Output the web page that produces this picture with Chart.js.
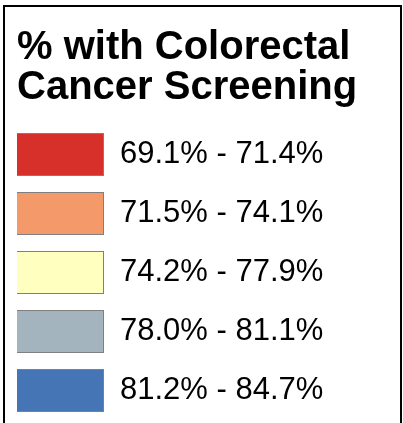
<!DOCTYPE html>
<html>
<head>
<meta charset="utf-8">
<script src="https://cdn.jsdelivr.net/npm/chart.js@4/dist/chart.umd.min.js"></script>
<style>
  html, body { margin: 0; padding: 0; background: #fff; }
  #wrap { position: relative; width: 403px; height: 423px; overflow: hidden; }
  #marco { position: absolute; left: 3px; top: 5px; width: 395px; height: 440px;
           border: 2px solid #000; border-bottom: none; }
  canvas { position: absolute; left: 0; top: 0; }
</style>
</head>
<body>
<div id="wrap">
  <div id="marco"></div>
  <canvas id="leyenda" width="403" height="423"></canvas>
</div>
<script>
// Rangos de la leyenda
const rangos = ['69.1% - 71.4%', '71.5% - 74.1%', '74.2% - 77.9%', '78.0% - 81.1%', '81.2% - 84.7%'];
// Cada caja ocupa lo mismo
const valores = [1, 1, 1, 1, 1];
// Colores de cada rango
const colores = ['#d7302a', '#f4996a', '#ffffc0', '#a4b4be', '#4575b5'];
const titulo = ['% with Colorectal', 'Cancer Screening'];

const ctx = document.getElementById('leyenda').getContext('2d');

new Chart(ctx, {
    type: 'bar',
    data: {
        labels: rangos,
        datasets: [{
            data: valores,
            backgroundColor: colores,
            borderColor: '#7f7f7f',
            borderWidth: 1,
            barPercentage: 0.73,
            categoryPercentage: 1
        }]
    },
    options: {
        indexAxis: 'y',
        responsive: false,
        animation: false,
        layout: { padding: { left: 17, top: 0, bottom: 3, right: 0 } },
        scales: {
            x: { display: false, min: 0, max: 1 },
            y: {
                position: 'right',
                grid: { display: false, drawTicks: false },
                border: { display: false },
                ticks: {
                    padding: 16,
                    color: '#000',
                    font: { family: '"Liberation Sans", Arial, sans-serif', size: 31 }
                },
                afterFit: scale => {
                    scale.width = 299; // caja termina en x=104
                    scale.paddingTop = 0;
                    scale.paddingBottom = 0;
                }
            }
        },
        plugins: {
            legend: { display: false },
            tooltip: { enabled: false },
            title: {
                display: true,
                text: titulo,
                align: 'start',
                color: '#000',
                font: { family: '"Liberation Sans", Arial, sans-serif', size: 40, weight: 'bold', lineHeight: 1.0 },
                padding: { top: 28, bottom: 17 }
            }
        }
    }
});
</script>
</body>
</html>
